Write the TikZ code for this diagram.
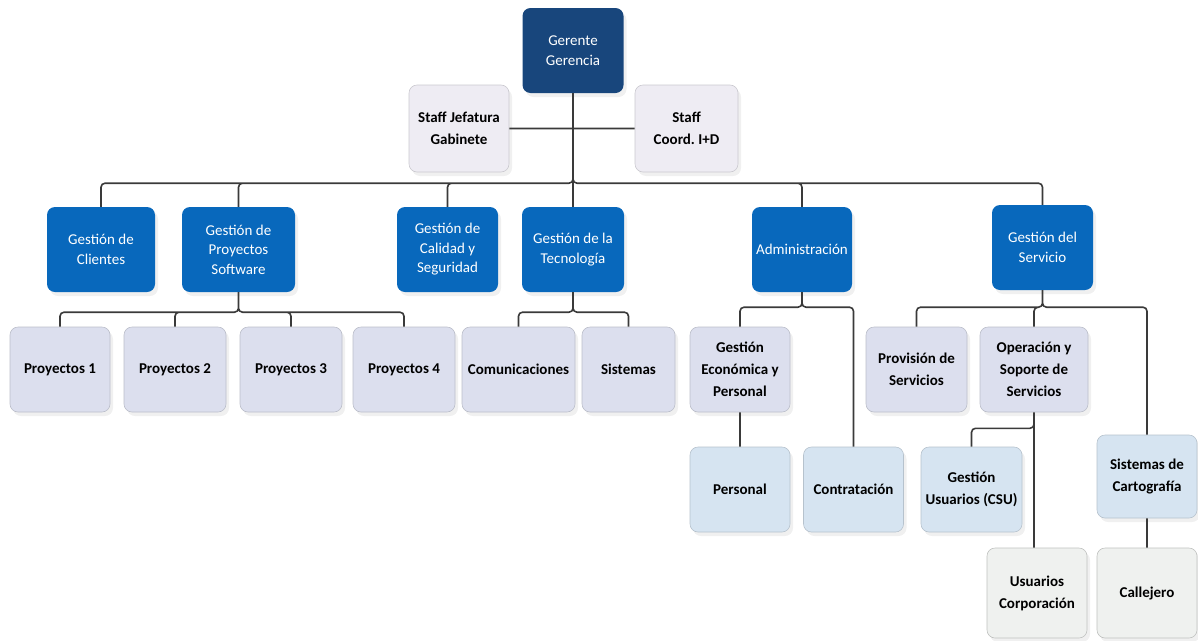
\documentclass[tikz,border=0pt]{standalone}
\usepackage{fontspec}
\setmainfont{Carlito}
\definecolor{navy}{RGB}{24,70,124}
\definecolor{bblue}{RGB}{8,104,188}
\definecolor{staffc}{RGB}{238,236,243}
\definecolor{lav}{RGB}{220,223,238}
\definecolor{lblue}{RGB}{214,228,241}
\definecolor{pale}{RGB}{239,241,239}
\definecolor{lnc}{RGB}{58,58,58}
\usepackage{tikz}
\usetikzlibrary{shadows}

\begin{document}
\begin{tikzpicture}[-, inner sep=0pt, align=center,
  box/.style={rounded corners=8pt, minimum width=100pt, minimum height=85pt,
    drop shadow={shadow xshift=3pt, shadow yshift=-4pt, opacity=0.12}},
  boss/.style={box, fill=navy, text=white, minimum width=101pt, font=\fontsize{15}{19.5}\selectfont},
  dept/.style={box, fill=bblue, text=white, minimum width=101pt, font=\fontsize{15}{19.5}\selectfont},
  staff/.style={box, fill=staffc, draw=staffc!85!black, line width=0.6pt, minimum height=87pt, font=\bfseries\fontsize{15}{22}\selectfont},
  unit/.style={box, fill=lav, draw=lav!85!black, line width=0.6pt, font=\bfseries\fontsize{15}{22}\selectfont},
  sub/.style={unit, fill=lblue, draw=lblue!85!black},
  leaf/.style={unit, fill=pale, draw=pale!80!black, minimum height=90pt},
  line/.style={draw=lnc, line width=1.6pt, rounded corners=4pt}]
  \frenchspacing
  \useasboundingbox (0pt,0pt) rectangle (1198pt,-640pt);
  \node[boss]  (G)   at (573pt,-50.5pt) {Gerente\\Gerencia};
  \node[staff] (SJ)  [left of=G, node distance=114pt, yshift=-78pt] {Staff Jefatura\\Gabinete};
  \node[staff, minimum width=103pt] (SC) [right of=G, node distance=113.5pt, yshift=-78pt] {Staff\\Coord. I+D};
  % departamentos
  \node[dept, minimum width=102pt] (T)  [below of=G, node distance=199pt] {Gestión de la\\Tecnología};
  \node[dept]  (CS)  [left of=T, node distance=125.5pt] {Gestión de\\Calidad y\\Seguridad};
  \node[dept, minimum width=113pt] (PS) [left of=CS, node distance=209pt] {Gestión de\\Proyectos\\Software};
  \node[dept, minimum width=108pt] (C)  [left of=PS, node distance=137.5pt] {Gestión de\\Clientes};
  \node[dept, minimum width=100pt] (A)  [right of=T, node distance=229pt] {Administración};
  \node[dept]  (S)   [right of=A, node distance=240.5pt, yshift=2pt] {Gestión del\\Servicio};
  % unidades
  \node[unit]  (P1)  [below of=C, node distance=120pt, xshift=-41pt] {Proyectos 1};
  \node[unit, minimum width=102pt] (P2) [right of=P1, node distance=115pt] {Proyectos 2};
  \node[unit, minimum width=102pt] (P3) [right of=P2, node distance=116pt] {Proyectos 3};
  \node[unit, minimum width=102pt] (P4) [right of=P3, node distance=113pt] {Proyectos 4};
  \node[unit, minimum width=113pt] (Com) [right of=P4, node distance=114.5pt] {Comunicaciones};
  \node[unit, minimum width=93pt]  (Sis) [right of=Com, node distance=110pt] {Sistemas};
  \node[unit]  (GEP) [right of=Sis, node distance=111.5pt] {Gestión\\Económica y\\Personal};
  \node[unit, minimum width=101pt] (Prov) [below of=S, node distance=122pt, xshift=-126pt] {Provisión de\\Servicios};
  \node[unit, minimum width=108pt] (Op)   [right of=Prov, node distance=117.5pt] {Operación y\\Soporte de\\Servicios};
  \node[sub]   (Pers) [below of=GEP, node distance=120pt] {Personal};
  \node[sub]   (Contr) [right of=Pers, node distance=113.5pt] {Contratación};
  \node[sub, minimum width=101pt] (CSU) [right of=Contr, node distance=118pt] {Gestión\\Usuarios (CSU)};
  \node[sub, minimum height=83pt] (Cart) [right of=CSU, node distance=175.5pt, yshift=13pt] {Sistemas de\\Cartografía};
  \node[leaf]  (Call) [below of=Cart, node distance=116.5pt] {Callejero};
  \node[leaf]  (UC)   [left of=Call, node distance=110pt] {Usuarios\\Corporación};
  % conectores
  \path[line] (G) -- (T)
        (SJ.east) -- (SJ.east -| G.south)
        (SC.west) -- (SC.west -| G.south)
        (G.south) -- ++(0pt,-90pt) -| (C.north)
        (G.south) -- ++(0pt,-90pt) -| (PS.north)
        (G.south) -- ++(0pt,-90pt) -| (CS.north)
        (G.south) -- ++(0pt,-90pt) -| (A.north)
        (G.south) -- ++(0pt,-90pt) -| (S.north)
        (PS.south) -- ++(0pt,-20pt) -| (P1.north)
        (PS.south) -- ++(0pt,-20pt) -| (P2.north)
        (PS.south) -- ++(0pt,-20pt) -| (P3.north)
        (PS.south) -- ++(0pt,-20pt) -| (P4.north)
        (T.south) -- ++(0pt,-20pt) -| (Com.north)
        (T.south) -- ++(0pt,-20pt) -| (Sis.north)
        (A.south) -- ++(0pt,-15pt) -| (GEP.north)
        (A.south) -- ++(0pt,-15pt) -| (Contr.north)
        (S.south) -- ++(0pt,-17pt) -| (Prov.north)
        (S.south) -- ++(0pt,-17pt) -| (Op.north)
        (S.south) -- ++(0pt,-17pt) -| (Cart.north)
        (GEP) -- (Pers)
        (Op.south) -- (Op.south |- UC.north)
        (Op.south) -- ++(0pt,-16pt) -| (CSU.north)
        (Cart) -- (Call)
        ;
\end{tikzpicture}
\end{document}
